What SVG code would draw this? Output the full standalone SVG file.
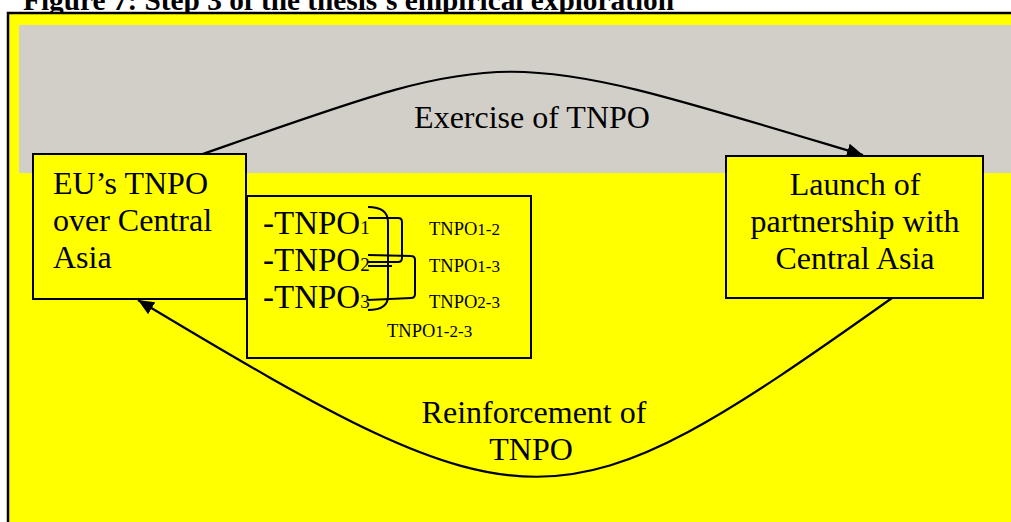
<svg xmlns="http://www.w3.org/2000/svg" width="1011" height="522" viewBox="0 0 1011 522">
<style>
.t{font-family:"Liberation Serif","Times New Roman",serif;fill:#000}
.lbl{font-size:32px}
.box{fill:#FFFF00;stroke:#000;stroke-width:2}
.con{fill:none;stroke:#000;stroke-width:2.2}
.br{fill:none;stroke:#000;stroke-width:2}
.sm{font-size:18.5px}
.sub{font-size:17px}
</style>
<defs>
<marker id="ah" markerUnits="userSpaceOnUse" markerWidth="18" markerHeight="14" refX="16" refY="7" orient="auto">
<path d="M0,0 L16,7 L0,14 Z" fill="#000"/>
</marker>
</defs>
<rect x="0" y="0" width="1011" height="522" fill="#fff"/>
<text class="t" x="23" y="10" font-size="29.3" font-weight="bold">Figure 7: Step 3 of the thesis’s empirical exploration</text>
<rect x="8" y="13" width="1100" height="600" fill="#FFFF00" stroke="#000" stroke-width="2.5"/>
<rect x="19" y="25" width="1100" height="148" fill="#D2CFC9"/>
<text class="t lbl" x="532" y="128" text-anchor="middle">Exercise of TNPO</text>
<g id="connectors">
<path class="con" d="M200,155 C517,44 493,44 863,155" marker-end="url(#ah)"/>
<path class="con" d="M892,298 C557,536 531,536 138,300" marker-end="url(#ah)"/>
</g>
<text class="t lbl" x="534" y="423" text-anchor="middle">Reinforcement of</text>
<text class="t lbl" x="531" y="460" text-anchor="middle">TNPO</text>
<g id="node-eu">
<rect class="box" x="33" y="154" width="213" height="145"/>
<text class="t lbl" x="53" y="194">EU’s TNPO</text>
<text class="t lbl" x="53" y="231">over Central</text>
<text class="t lbl" x="53" y="268">Asia</text>
</g>
<g id="node-launch">
<rect class="box" x="726" y="156" width="257" height="142"/>
<text class="t lbl" x="855" y="195" text-anchor="middle">Launch of</text>
<text class="t lbl" x="855" y="232" text-anchor="middle">partnership with</text>
<text class="t lbl" x="855" y="269" text-anchor="middle">Central Asia</text>
</g>
<g id="node-tnpo">
<rect class="box" x="247" y="196" width="284" height="162"/>
<text class="t" x="263" y="234" font-size="33">-TNPO<tspan font-size="19">1</tspan></text>
<text class="t" x="263" y="271" font-size="33">-TNPO<tspan font-size="19">2</tspan></text>
<text class="t" x="263" y="308" font-size="33">-TNPO<tspan font-size="19">3</tspan></text>
<path class="br" d="M368,207 Q388,207 388,222 L388,296 Q388,310 368,310"/>
<path class="br" d="M368,218 L398,218 Q402,218 402,222 L402,258 Q402,262 398,262 L368,262"/>
<path class="br" d="M368,266 L392,266"/>
<path class="br" d="M368,255 L411,256 Q415,256 415,260 L415,294 Q415,298 411,298 L368,300"/>
<text class="t sm" x="429" y="235">TNPO<tspan class="sub">1-2</tspan></text>
<text class="t sm" x="429" y="272">TNPO<tspan class="sub">1-3</tspan></text>
<text class="t sm" x="429" y="308">TNPO<tspan class="sub">2-3</tspan></text>
<text class="t sm" x="387" y="337">TNPO<tspan class="sub">1-2-3</tspan></text>
</g>
</svg>
